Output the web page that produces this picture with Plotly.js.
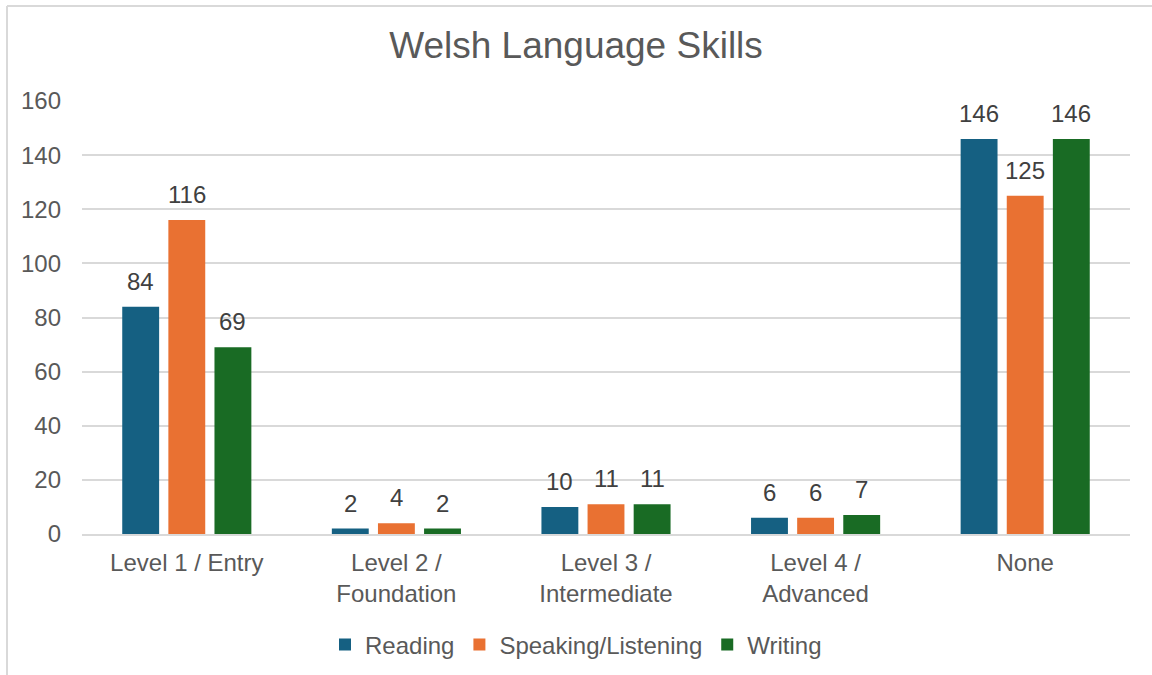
<!DOCTYPE html>
<html>
<head>
<meta charset="utf-8">
<script src="https://cdn.plot.ly/plotly-3.0.1.min.js"></script>
<style>html,body{margin:0;padding:0;background:#fff;}#chart{width:1152px;height:675px;}</style>
</head>
<body>
<div id="chart"></div>
<script>
const categories = ["Level 1 / Entry", "Level 2 /<br>Foundation", "Level 3 /<br>Intermediate", "Level 4 /<br>Advanced", "None"];
const reading = [84, 2, 10, 6, 146];
const speakingListening = [116, 4, 11, 6, 125];
const writing = [69, 2, 11, 7, 146];
const seriesNames = ["Reading", "Speaking/Listening", "Writing"];
const colors = ["#156082", "#E97132", "#196B24"];

const font = "Liberation Sans, Arial, sans-serif";
const series = [reading, speakingListening, writing];
const bargap = 0.34;
const bargroupgap = 0.2;

const traces = series.map((vals, i) => ({
  type: "bar",
  name: seriesNames[i],
  x: categories,
  y: vals,
  marker: {color: colors[i]},
  hoverinfo: "x+y+name"
}));

// value labels placed above each bar, offset within its group
const slot = (1 - bargap) / series.length;
const annotations = [];
series.forEach((vals, i) => {
  vals.forEach((v, c) => {
    annotations.push({
      xref: "x", yref: "y",
      x: c + (i - (series.length - 1) / 2) * slot,
      y: v,
      text: String(v),
      showarrow: false,
      yanchor: "bottom",
      yshift: 10,
      font: {family: font, size: 24, color: "#404040"}
    });
  });
});

const layout = {
  width: 1152, height: 675,
  margin: {l: 82, r: 22, t: 101, b: 141},
  paper_bgcolor: "#ffffff", plot_bgcolor: "#ffffff",
  font: {family: font, size: 24, color: "#595959"},
  title: {text: "Welsh Language Skills", font: {family: font, size: 37, color: "#595959"},
          x: 0.5, xanchor: "center", xref: "container", y: 1 - 45/675, yanchor: "middle", yref: "container"},
  barmode: "group",
  bargap: bargap,
  bargroupgap: bargroupgap,
  xaxis: {type: "category", showgrid: false, showline: true, linecolor: "#D9D9D9", linewidth: 2,
          ticks: "", tickfont: {family: font, size: 24, color: "#595959"}, ticklabelstandoff: 6},
  yaxis: {range: [0, 160], dtick: 20, showgrid: true, gridcolor: "#D9D9D9", gridwidth: 2,
          zeroline: false, showline: false, ticks: "", ticklabelstandoff: 20,
          tickfont: {family: font, size: 24, color: "#595959"}},
  legend: {orientation: "h", x: 0.5, xanchor: "center", xref: "container", y: 1 - 645/675, yanchor: "middle", yref: "container",
           font: {family: font, size: 24, color: "#595959"}, itemwidth: 30, traceorder: "normal"},
  annotations: annotations,
  shapes: [
    {type: "line", xref: "paper", yref: "paper", x0: (7-82)/1048, x1: (7-82)/1048, y0: (534-6)/433, y1: (534-680)/433,
     line: {color: "#D9D9D9", width: 2}},
    {type: "line", xref: "paper", yref: "paper", x0: (7-82)/1048, x1: (1160-82)/1048, y0: (534-6)/433, y1: (534-6)/433,
     line: {color: "#D9D9D9", width: 2}}
  ],
  showlegend: true
};

Plotly.newPlot("chart", traces, layout, {displayModeBar: false, staticPlot: true});
</script>
</body>
</html>
